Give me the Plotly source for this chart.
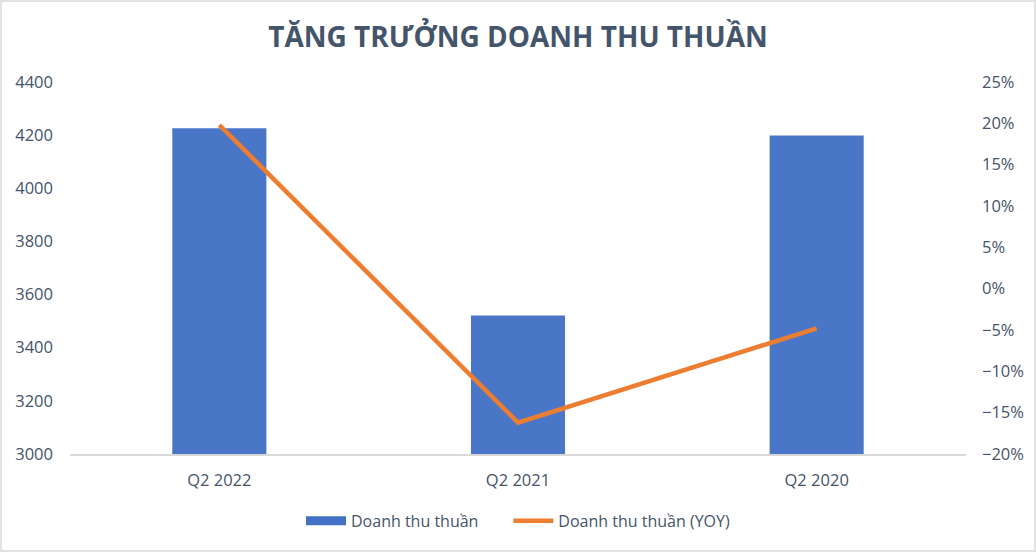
import plotly.graph_objects as go

categories = ["Q2 2022", "Q2 2021", "Q2 2020"]
revenue = [4226, 3521, 4199]
yoy = [0.198, -0.162, -0.048]
bar_name = "Doanh thu thuần"
line_name = "Doanh thu thuần (YOY)"

W, H = 1036, 552
L, R, T, B = 70, 70, 82, 98

fig = go.Figure()
fig.add_trace(go.Bar(
    x=categories, y=revenue, name=bar_name,
    marker=dict(color="#4A76C8", line=dict(width=0)),
    width=0.315, yaxis="y", showlegend=False
))
# legend entry for bars drawn as wide rectangle
fig.add_trace(go.Scatter(
    x=[None], y=[None], name=bar_name + "\u00a0" * 6, mode="lines",
    line=dict(color="#4270C4", width=9), yaxis="y"
))
fig.add_trace(go.Scatter(
    x=categories, y=yoy, name=line_name,
    mode="lines", line=dict(color="#ED7D31", width=4.5),
    yaxis="y2"
))

tickfont = dict(family="Open Sans", size=16.5, color="#44546A")
fig.update_layout(
    width=W, height=H,
    margin=dict(l=L, r=R, t=T, b=B),
    paper_bgcolor="white", plot_bgcolor="white",
    title=dict(text="<b>TĂNG TRƯỞNG DOANH THU THUẦN</b>", x=0.5, xanchor="center",
               y=1 - 37 / H, yanchor="middle",
               font=dict(family="Open Sans", size=28, color="#44546A")),
    xaxis=dict(showgrid=False, showline=True, linecolor="#D9D9D9", linewidth=1.5,
               tickfont=tickfont, ticks="", ticklabelstandoff=10),
    yaxis=dict(range=[3000, 4400], dtick=200, showgrid=False, zeroline=False,
               tickfont=tickfont, ticks="", ticklabelstandoff=16),
    yaxis2=dict(range=[-0.20, 0.25], dtick=0.05, tickformat=".0%", overlaying="y",
                side="right", showgrid=False, zeroline=False,
                tickfont=tickfont, ticks="", ticklabelstandoff=15),
    legend=dict(orientation="h", x=0.5, xanchor="center", y=-0.18, yanchor="middle",
                font=dict(family="Open Sans", size=16, color="#44546A"),
                itemwidth=40),
    bargap=0.685,
    showlegend=True,
)

pw = W - L - R
ph = H - T - B
fig.add_shape(type="rect", xref="paper", yref="paper",
              x0=(-L + 1) / pw, x1=1 + (R - 1) / pw,
              y0=(-B + 1) / ph, y1=1 + (T - 1) / ph,
              line=dict(color="#D9D9D9", width=1.5), layer="below")

fig.write_html("out.html", config={"displayModeBar": False},
               post_script="document.body.style.margin='0';")
